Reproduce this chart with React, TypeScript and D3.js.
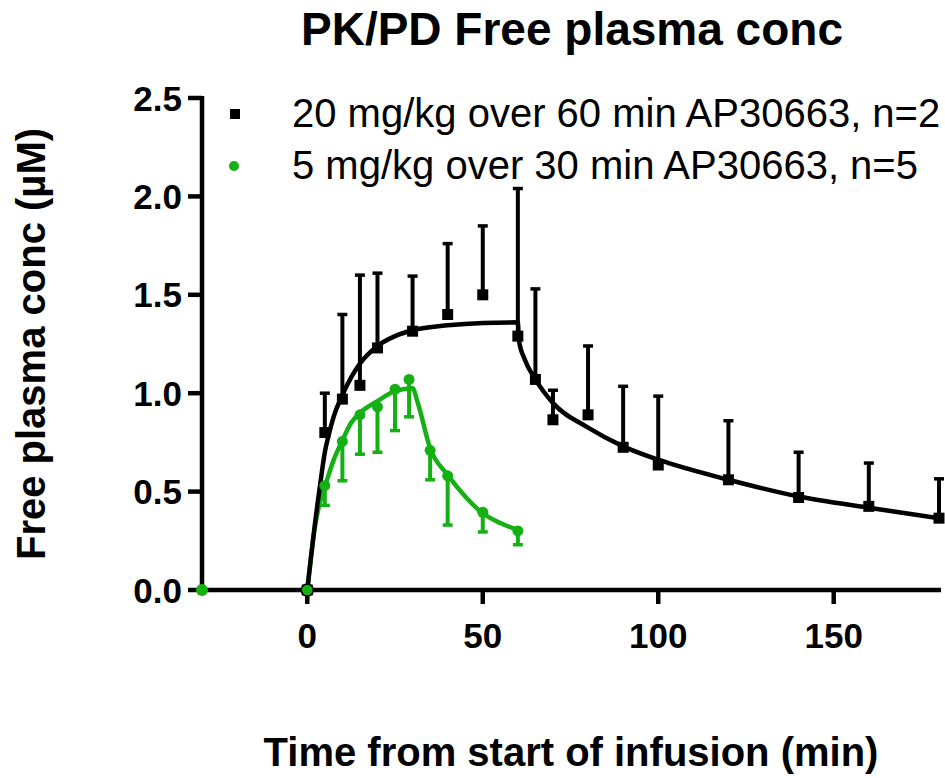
import * as d3 from 'd3'

// 20 mg/kg over 60 min (black squares, SD drawn upward)
const blackTime = [0, 5, 10, 15, 20, 30, 40, 50, 60, 65, 70, 80, 90, 100, 120, 140, 160, 180]
const blackMean = [0, 0.8, 0.97, 1.04, 1.23, 1.315, 1.4, 1.5, 1.29, 1.07, 0.865, 0.89, 0.725, 0.635, 0.56, 0.47, 0.425, 0.365]
const blackSd = [0, 0.2, 0.43, 0.56, 0.38, 0.28, 0.36, 0.35, 0.75, 0.46, 0.15, 0.35, 0.31, 0.35, 0.3, 0.23, 0.22, 0.2]

// 5 mg/kg over 30 min (green circles, SD drawn downward)
const greenTime = [-30, 0, 5, 10, 15, 20, 25, 29, 35, 40, 50, 60]
const greenMean = [0, 0, 0.53, 0.755, 0.89, 0.93, 1.02, 1.07, 0.71, 0.58, 0.395, 0.3]
const greenSd = [0, 0, 0.1, 0.2, 0.2, 0.23, 0.21, 0.19, 0.15, 0.25, 0.1, 0.07]

// model fits
const blackFitTime = [0, 1, 2, 3, 4, 5, 6, 7.5, 10, 12.5, 15, 20, 25, 30, 40, 50, 60, 60.3, 62, 65, 70, 80, 90, 100, 120, 140, 160, 180]
const blackFitConc = [0, 0.16, 0.31, 0.45, 0.58, 0.7, 0.78, 0.88, 0.99, 1.08, 1.15, 1.24, 1.29, 1.32, 1.345, 1.357, 1.36, 1.27, 1.17, 1.07, 0.95, 0.825, 0.73, 0.662, 0.56, 0.475, 0.418, 0.365]
const greenFitTime = [0, 1, 2, 3, 4, 5, 7.5, 10, 12.5, 15, 20, 25, 30, 31.5, 35, 40, 45, 50, 55, 60]
const greenFitConc = [0, 0.155, 0.3, 0.4, 0.47, 0.525, 0.66, 0.76, 0.85, 0.9, 0.96, 1.01, 1.025, 0.95, 0.72, 0.585, 0.475, 0.39, 0.34, 0.305]

const xTicks = [0, 50, 100, 150]
const yTicks = [0, 0.5, 1.0, 1.5, 2.0, 2.5]
const legendLabels = ['20 mg/kg over 60 min AP30663, n=2', '5 mg/kg over 30 min AP30663, n=5']

const W = 945
const H = 778
const GREEN = '#14b014'
const FONT = '"Liberation Sans", Arial, Helvetica, sans-serif'

export default function App() {
    const x = d3.scaleLinear().domain([-30, 180]).range([202, 939])
    const y = d3.scaleLinear().domain([0, 2.5]).range([590, 98])

    const line = d3.line<[number, number]>()
        .x(d => x(d[0]))
        .y(d => y(d[1]))
        .curve(d3.curveMonotoneX)

    const blackFit = blackFitTime.map((t, i) => [t, blackFitConc[i]] as [number, number])
    const greenFit = greenFitTime.map((t, i) => [t, greenFitConc[i]] as [number, number])
    const cap = 5

    return (
        <div style={{ position: 'absolute', left: 0, top: 0 }}>
            <svg width={W} height={H} style={{ display: 'block', background: '#fff' }} fontFamily={FONT}>
                <text x={572} y={45} textAnchor="middle" fontSize={46} fontWeight="bold">PK/PD Free plasma conc</text>

                {/* fitted curves */}
                <path d={line(greenFit) || ''} fill="none" stroke={GREEN} strokeWidth={4.5} />
                <path d={line(blackFit) || ''} fill="none" stroke="#000" strokeWidth={4.5} />

                {/* black error bars + squares */}
                <g>
                    {blackTime.map((t, i) => {
                        if (!blackSd[i]) return null
                        const top = y(blackMean[i] + blackSd[i])
                        return (
                            <g key={'be' + i} stroke="#000">
                                <line x1={x(t)} x2={x(t)} y1={y(blackMean[i])} y2={top} strokeWidth={4} />
                                <line x1={x(t) - cap} x2={x(t) + cap} y1={top} y2={top} strokeWidth={3.5} />
                            </g>
                        )
                    })}
                    {blackTime.map((t, i) => (
                        <rect key={'bs' + i} x={x(t) - 5.5} y={y(blackMean[i]) - 5.5} width={11} height={11} fill="#000" />
                    ))}
                </g>

                {/* green error bars + circles */}
                <g>
                    {greenTime.map((t, i) => {
                        if (!greenSd[i]) return null
                        const bot = y(greenMean[i] - greenSd[i])
                        return (
                            <g key={'ge' + i} stroke={GREEN}>
                                <line x1={x(t)} x2={x(t)} y1={y(greenMean[i])} y2={bot} strokeWidth={4} />
                                <line x1={x(t) - cap} x2={x(t) + cap} y1={bot} y2={bot} strokeWidth={3.5} />
                            </g>
                        )
                    })}
                </g>

                {/* axes */}
                <g stroke="#000" strokeWidth={4.5}>
                    <line x1={x(-30)} x2={x(180) + 2} y1={y(0)} y2={y(0)} />
                    <line x1={x(-30)} x2={x(-30)} y1={y(0)} y2={y(2.5) - 2} />
                    {yTicks.map(v => (
                        <line key={'yt' + v} x1={x(-30) - 14} x2={x(-30)} y1={y(v)} y2={y(v)} />
                    ))}
                    {xTicks.map(v => (
                        <line key={'xt' + v} x1={x(v)} x2={x(v)} y1={y(0)} y2={y(0) + 14} />
                    ))}
                </g>
                {greenTime.map((t, i) => (
                    <circle key={'gc' + i} cx={x(t)} cy={y(greenMean[i])} r={greenMean[i] === 0 ? 6 : 5.5} fill={GREEN}
                        stroke={t === 0 ? '#000' : 'none'} strokeWidth={1.5} />
                ))}
                {yTicks.map(v => (
                    <text key={'yl' + v} x={182} y={y(v)} dy="0.36em" textAnchor="end" fontSize={35} fontWeight="bold">
                        {v.toFixed(1)}
                    </text>
                ))}
                {xTicks.map(v => (
                    <text key={'xl' + v} x={x(v)} y={648} textAnchor="middle" fontSize={35} fontWeight="bold">{v}</text>
                ))}

                <text x={571} y={766} textAnchor="middle" fontSize={40} fontWeight="bold">Time from start of infusion (min)</text>
                <text transform={`translate(45, ${(y(0) + y(2.5)) / 2}) rotate(-90)`} textAnchor="middle" fontSize={40} fontWeight="bold">
                    Free plasma conc (µM)
                </text>

                {/* legend */}
                <rect x={230} y={109} width={10} height={10} fill="#000" />
                <text x={292} y={127} fontSize={40}>{legendLabels[0]}</text>
                <circle cx={234} cy={166} r={5} fill={GREEN} />
                <text x={292} y={179} fontSize={40}>{legendLabels[1]}</text>
            </svg>
        </div>
    )
}
